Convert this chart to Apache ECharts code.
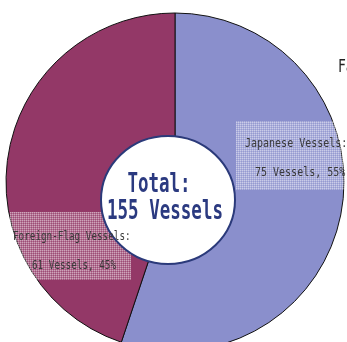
<!DOCTYPE html>
<html><head><meta charset="utf-8">
<script src="https://cdn.jsdelivr.net/npm/echarts@6/dist/echarts.min.js"></script>
<style>html,body{margin:0;padding:0;background:#fff}#c{width:347px;height:342px}</style>
</head><body><div id="c"></div>
<script>
const categories = ['Japanese Vessels', 'Foreign-Flag Vessels'];
const values = [75, 61];
const percents = [55, 45];
const totalLabel = ['Total:', '155 Vessels'];
const colors = ['#8A8FCC', '#933867'];

function makePattern(){
  const c = document.createElement('canvas'); c.width = 2; c.height = 2;
  const g = c.getContext('2d');
  g.fillStyle = 'rgba(255,255,255,0.55)'; g.fillRect(0,0,1,1);
  g.fillStyle = 'rgba(255,255,255,0.3)'; g.fillRect(1,0,1,1); g.fillRect(0,1,1,1);
  g.fillStyle = 'rgba(255,255,255,0.1)'; g.fillRect(1,1,1,1);
  return {image: c, repeat: 'repeat'};
}
const pat = makePattern();
const chart = echarts.init(document.getElementById('c'), null, {renderer: 'canvas'});
const mono = '"DejaVu Sans Mono", monospace';
function txt(t, x, y, size, color, sx, sy, weight, align){
  return {type:'text', x:x, y:y, scaleX:sx, scaleY:sy, z:20,
    style:{text:t, x:0, y:0, fill:color, font:(weight||'normal')+' '+size+'px '+mono, align:align||'left', verticalAlign:'middle'}};
}
const labelColor = '#3a3a3a';
const graphics = [
  {type:'rect', shape:{x:236, y:121, width:120, height:69}, style:{fill:pat}, z:10},
  {type:'rect', shape:{x:10, y:212, width:121, height:68}, style:{fill:pat}, z:10},
  txt(categories[0] + ':', 245, 144, 10, labelColor, 1, 1.3),
  txt(values[0] + ' Vessels, ' + percents[0] + '%', 255, 173, 10, labelColor, 1, 1.3),
  txt(categories[1] + ':', 13, 237, 10, labelColor, 0.93, 1.3),
  txt(values[1] + ' Vessels, ' + percents[1] + '%', 32, 266, 10, labelColor, 0.93, 1.3),
  {type:'ellipse', shape:{cx:168, cy:200, rx:67, ry:64}, style:{fill:'#fff', stroke:'#2B3A7A', lineWidth:2}, z:15},
  txt(totalLabel[0], 159, 185, 17.5, '#2B3A80', 1, 1.5, 'bold', 'center'),
  txt(totalLabel[1], 165, 212, 17.5, '#2B3A80', 1, 1.5, 'bold', 'center'),
  txt('Fa', 338, 67, 13, '#222', 1, 1.35)
];
chart.setOption({
  animation:false,
  series:[{
    type:'pie', center:[175,182], radius:169, startAngle:90, clockwise:true,
    label:{show:false}, labelLine:{show:false}, silent:true,
    itemStyle:{borderColor:'#111', borderWidth:1},
    data: categories.map((n,i)=>({name:n, value:values[i], itemStyle:{color:colors[i]}}))
  }],
  graphic: graphics
});
</script></body></html>
